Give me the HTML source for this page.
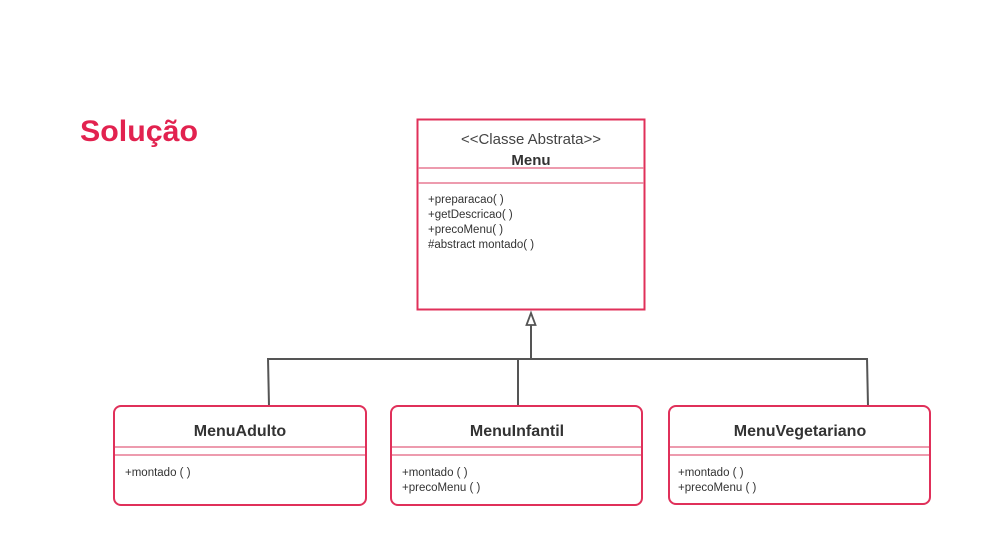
<!DOCTYPE html>
<html><head><meta charset="utf-8"><style>
html,body{margin:0;padding:0;background:#fff;}
svg{display:block;}
text{font-family:"Liberation Sans","DejaVu Sans",sans-serif;fill:#333;}
</style></head><body>
<svg width="997" height="559" viewBox="0 0 997 559" xmlns="http://www.w3.org/2000/svg">
<text x="80" y="141" font-size="30" font-weight="bold" style="fill:#e2224f" textLength="118" lengthAdjust="spacingAndGlyphs">Solução</text>

<!-- Menu -->
<rect x="417.5" y="119.5" width="227" height="190" fill="#fff" stroke="#e0305a" stroke-width="2"/>
<line x1="418" y1="168" x2="644" y2="168" stroke="#e77a93" stroke-width="1.5"/>
<line x1="418" y1="183" x2="644" y2="183" stroke="#e77a93" stroke-width="1.5"/>
<text x="531" y="144" font-size="15" text-anchor="middle" style="fill:#444">&lt;&lt;Classe Abstrata&gt;&gt;</text>
<text x="531" y="165" font-size="15" font-weight="bold" text-anchor="middle">Menu</text>
<g font-size="11.5">
<text x="428" y="203">+preparacao( )</text>
<text x="428" y="218">+getDescricao( )</text>
<text x="428" y="233">+precoMenu( )</text>
<text x="428" y="248">#abstract montado( )</text>
</g>

<!-- connectors -->
<g stroke="#555" stroke-width="2" fill="none">
<line x1="268" y1="359" x2="868" y2="359"/>
<line x1="268" y1="358" x2="269" y2="406"/>
<line x1="518" y1="359" x2="518" y2="406"/>
<line x1="867" y1="358" x2="868" y2="406"/>
<line x1="531" y1="359" x2="531" y2="325"/>
</g>
<polygon points="531,313 526.5,325 535.5,325" fill="#fff" stroke="#555" stroke-width="1.8"/>

<!-- children -->
<g fill="#fff" stroke="#e0305a" stroke-width="2">
<rect x="114" y="406" width="252" height="99" rx="7"/>
<rect x="391" y="406" width="251" height="99" rx="7"/>
<rect x="669" y="406" width="261" height="98" rx="7"/>
</g>
<g stroke="#e77a93" stroke-width="1.5">
<line x1="115" y1="447" x2="365" y2="447"/><line x1="115" y1="455" x2="365" y2="455"/>
<line x1="392" y1="447" x2="641" y2="447"/><line x1="392" y1="455" x2="641" y2="455"/>
<line x1="670" y1="447" x2="929" y2="447"/><line x1="670" y1="455" x2="929" y2="455"/>
</g>
<g font-size="16" font-weight="bold" text-anchor="middle">
<text x="240" y="436">MenuAdulto</text>
<text x="517" y="436">MenuInfantil</text>
<text x="800" y="436">MenuVegetariano</text>
</g>
<g font-size="11.5">
<text x="125" y="476">+montado ( )</text>
<text x="402" y="476">+montado ( )</text>
<text x="402" y="491">+precoMenu ( )</text>
<text x="678" y="476">+montado ( )</text>
<text x="678" y="491">+precoMenu ( )</text>
</g>
</svg>
</body></html>
